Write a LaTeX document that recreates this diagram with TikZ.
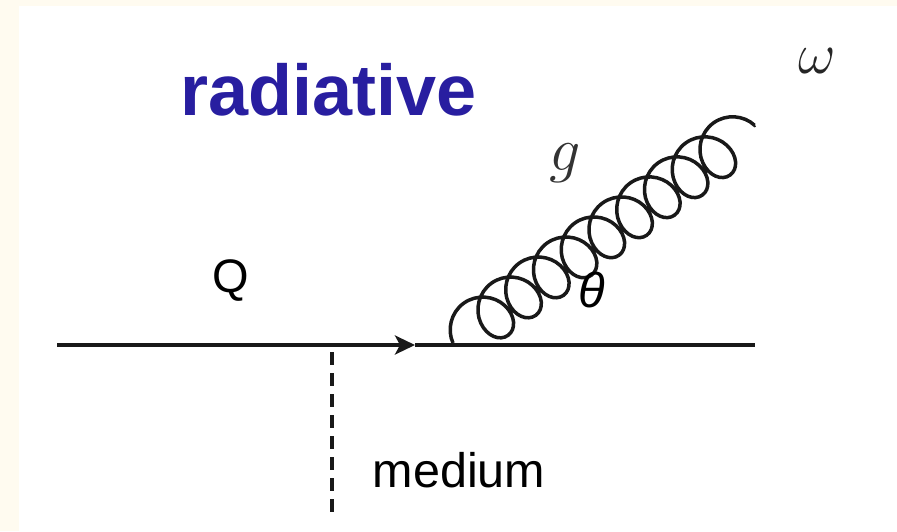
\RequirePackage{fix-cm}
\documentclass[tikz,border=0pt]{standalone}
\usepackage{fontspec}
\newfontfamily\sansf{Liberation Sans}
\usetikzlibrary{arrows.meta,decorations.pathmorphing}
\definecolor{cream}{RGB}{255,251,240}
\definecolor{radblue}{RGB}{40,30,160}
\tikzset{
  line/.style={line width=3.5pt, black!90},
  gluon/.style={line width=3.5pt, black!90, decorate,
    decoration={coil, amplitude=26pt, segment length=34.23pt, aspect=0.9}},
  medline/.style={line width=3.5pt, black!90, dash pattern=on 13pt off 8pt},
  lab/.style={inner sep=0pt, anchor=base}
}
\begin{document}
\begin{tikzpicture}[x=1pt,y=-1pt]
\useasboundingbox (0,0) rectangle (897,531);
\fill[cream] (0,0) rectangle (897,531);
\fill[white] (19,6) rectangle (897,531);
\coordinate (qa) at (57,345);
\coordinate (tip) at (415,345);
\coordinate (qb) at (755,345);
\coordinate (gs) at (453,343);
\coordinate (ge) at (755,125);
\coordinate (ma) at (332,352);
\coordinate (mb) at (332,515);
\draw[line, -{Stealth[length=20pt,width=19pt,inset=5pt]}] (qa) -- (tip);
\draw[line] (tip) -- (qb);
\draw[medline] (ma) -- (mb);
\draw[gluon] (gs) -- (ge);
\node[lab, text=radblue] (rad) at (328.5,115) {\sansf\bfseries\fontsize{72}{80}\selectfont radiative};
\node[lab] (Q) at (231,292) {\sansf\fontsize{47}{52}\selectfont Q};
\node[lab] (th) at (592,307) {\sansf\itshape\fontsize{49}{54}\selectfont θ};
\node[lab] (med) at (459,487) {\sansf\fontsize{48.5}{54}\selectfont medium};
\node[lab, text=black!80] (g) at (565,170) {\fontsize{62}{70}\selectfont $g$};
\node[lab, text=black!85] (w) at (817,73) {\fontsize{58}{64}\selectfont $\omega$};
\end{tikzpicture}
\end{document}
